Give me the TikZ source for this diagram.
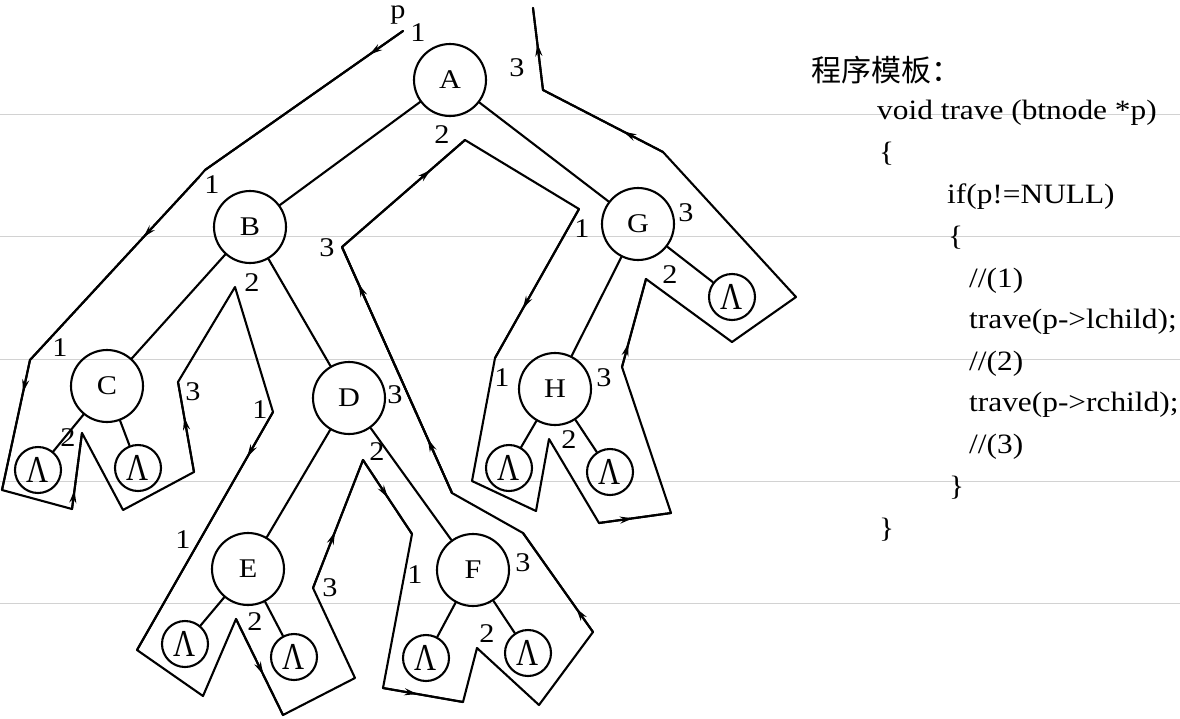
\documentclass[tikz,border=0pt]{standalone}
\usepackage{fontspec}
\setmainfont{Liberation Serif}[FakeStretch=1.12]
\newfontfamily\cjkfont{Noto Sans CJK SC}
\newfontfamily\nilfont{Liberation Serif}
\usepackage{tikz}
\usetikzlibrary{arrows.meta, decorations.markings}

\begin{document}
\begin{tikzpicture}[x=1pt, y=-1pt, line join=round, line cap=round]
    \tikzset{tnode/.style={circle, draw, line width=2.1pt, minimum size=72pt, inner sep=0pt,
                           font=\fontsize{27}{27}\selectfont}}
    \tikzset{nilnode/.style={circle, draw, line width=2.1pt, minimum size=46pt, inner sep=0pt,
                             font=\nilfont\fontsize{38}{38}\selectfont}}
    \tikzset{edge/.style={line width=2.1pt}}
    \tikzset{walk/.style={line width=2.1pt}}
    \tikzset{walkarr/.style={line width=2.1pt, postaction={decorate},
             decoration={markings, mark=at position #1 with {\arrow{Stealth[length=13pt, width=7pt]}}}}}
    \tikzset{num/.style={font=\fontsize{27}{27}\selectfont, inner sep=0pt}}
    \tikzset{codeline/.style={anchor=base west, inner sep=0pt, font=\fontsize{28}{28}\selectfont}}
    \useasboundingbox (0,0) rectangle (1180,718);
    \foreach \gy in {114, 236, 359, 481, 603} {
        \draw[gray!35, line width=1pt] (0,\gy) -- (1180,\gy);
    }
    % tree
    \foreach \n/\xx/\yy in {A/450/80, B/250/227, G/638/224, C/107/386, D/349/398,
                            E/248/569, F/473/570, H/555/389} {
        \node[tnode] (\n) at (\xx,\yy) {\n};
    }
    \foreach \n/\xx/\yy in {Cl/38/470, Cr/138/468, El/185/644, Er/294/657, Fl/426/658,
                            Fr/528/653, Hl/509/468, Hr/610/472, Gr/732/297} {
        \node[nilnode] (\n) at (\xx,\yy) {\scalebox{0.8}[1]{Λ}};
    }
    \foreach \a/\b in {A/B, A/G, B/C, B/D, D/E, D/F, G/H, G/Gr, C/Cl, C/Cr,
                       E/El, E/Er, F/Fl, F/Fr, H/Hl, H/Hr} {
        \draw[edge] (\a) -- (\b);
    }
    % walk round the tree
    \foreach \w/\xx/\yy in {1/403/31, 2/205/170, 3/199/177, 4/30/360, 5/2/490, 6/72/509,
                            7/82/433, 8/123/510, 9/194/472, 10/178/382, 11/235/287,
                            12/273/412, 13/137/650, 14/203/696, 15/236/619, 16/283/715,
                            17/355/678, 18/313/588, 19/363/460, 20/412/534, 21/383/688,
                            22/463/702, 23/477/648, 24/539/705, 25/593/632, 26/523/533,
                            27/452/493, 28/342/247, 29/465/140, 30/579/209, 31/495/358,
                            32/472/481, 33/536/511, 34/549/439, 35/599/523, 36/671/513,
                            37/622/367, 38/646/279, 39/732/342, 40/796/297, 41/663/152,
                            42/543/90, 43/533/8} {
        \coordinate (w\w) at (\xx,\yy);
    }
    \draw[walk] (w1) -- (w2) -- (w3) -- (w4) -- (w5) -- (w6) -- (w7) -- (w8) -- (w9) -- (w10)
        -- (w11) -- (w12) -- (w13) -- (w14) -- (w15) -- (w16) -- (w17) -- (w18) -- (w19)
        -- (w20) -- (w21) -- (w22) -- (w23) -- (w24) -- (w25) -- (w26) -- (w27) -- (w28)
        -- (w29) -- (w30) -- (w31) -- (w32) -- (w33) -- (w34) -- (w35) -- (w36) -- (w37)
        -- (w38) -- (w39) -- (w40) -- (w41) -- (w42) -- (w43);
    \foreach \a/\b/\p in {1/2/0.17, 3/4/0.33, 4/5/0.25, 6/7/0.25, 9/10/0.61, 12/13/0.19,
                          15/16/0.58, 18/19/0.44, 19/20/0.51, 21/22/0.43, 25/26/0.24,
                          27/28/0.22, 27/28/0.85, 28/29/0.72, 30/31/0.67, 35/36/0.47,
                          37/38/0.27, 41/42/0.33, 42/43/0.57} {
        \draw[walkarr=\p] (w\a) -- (w\b);
    }
    % step numbers
    \node[num, anchor=base] (ptr) at (398,18) {p};
    \foreach \t/\xx/\yy [count=\k] in {1/418/33, 3/517/68, 2/442/135, 1/212/185,
                            3/327/248, 1/582/229, 3/686/213, 2/670/275, 2/252/283,
                            1/60/348, 2/68/438, 3/193/392, 1/260/410, 3/395/395,
                            2/377/452, 1/183/540, 2/255/622, 3/330/588, 1/415/575,
                            3/523/563, 2/487/634, 1/502/378, 3/604/378, 2/569/440} {
        \node[num] (lab\k) at (\xx,\yy) {\t};
    }
    % program
    \node[anchor=base west, inner sep=0pt, font=\cjkfont\fontsize{30}{30}\selectfont]
        (title) at (811,81) {程序模板：};
    \node[codeline] (c1) at (877,119) {void trave (btnode *p)};
    \node[codeline] (c2) at (879,161) {\{};
    \node[codeline] (c3) at (947,203) {if(p!=NULL)};
    \node[codeline] (c4) at (948,245) {\{};
    \node[codeline] (c5) at (969,287) {//(1)};
    \node[codeline] (c6) at (969,328) {trave(p->lchild);};
    \node[codeline] (c7) at (969,370) {//(2)};
    \node[codeline] (c8) at (969,411) {trave(p->rchild);};
    \node[codeline] (c9) at (969,453) {//(3)};
    \node[codeline] (c10) at (949,495) {\}};
    \node[codeline] (c11) at (879,537) {\}};
\end{tikzpicture}
\end{document}
